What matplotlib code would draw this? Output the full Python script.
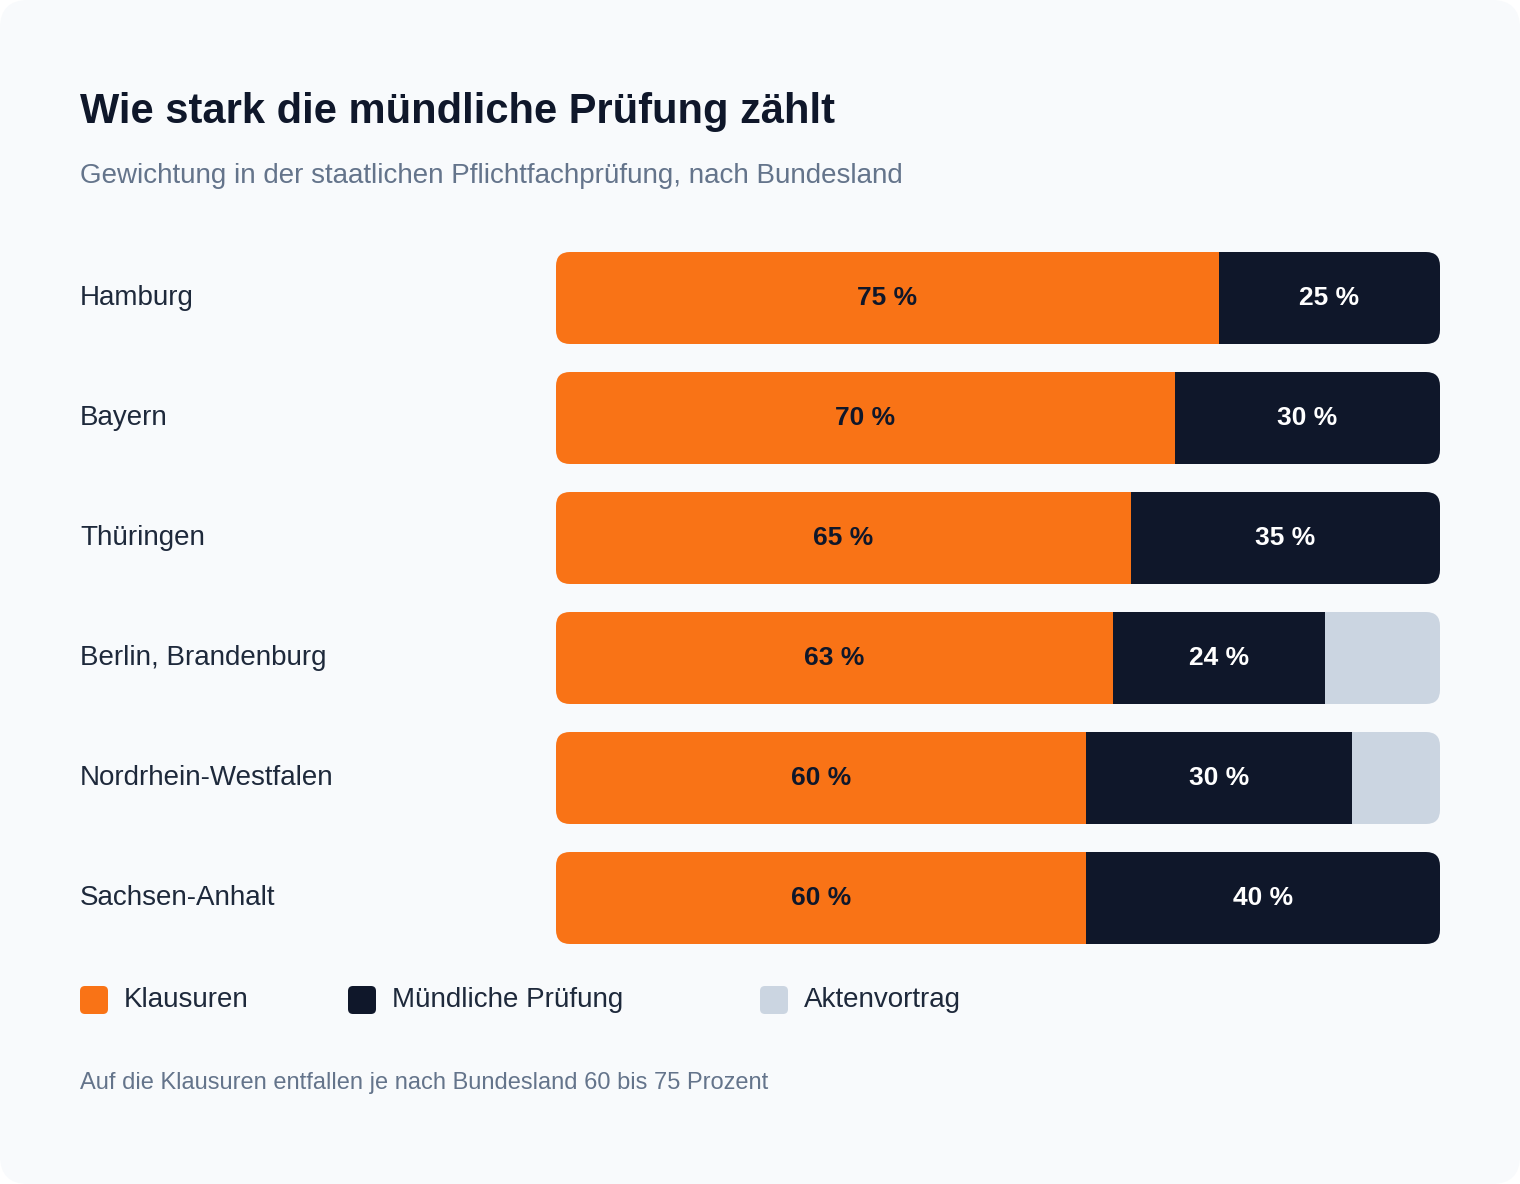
import matplotlib.pyplot as plt
from matplotlib.patches import FancyBboxPatch

plt.rcParams['font.family'] = ['Liberation Sans', 'DejaVu Sans']

laender = ['Hamburg', 'Bayern', 'Thüringen', 'Berlin, Brandenburg', 'Nordrhein-Westfalen', 'Sachsen-Anhalt']
klausuren = [75, 70, 65, 63, 60, 60]
muendlich = [25, 30, 35, 24, 30, 40]
akten = [0, 0, 0, 13, 10, 0]

c_orange = '#f97316'
c_navy = '#0f172a'
c_gray = '#cbd5e1'

W, H = 1520, 1184
fig = plt.figure(figsize=(W / 100, H / 100), dpi=100)
fig.patch.set_facecolor('white')

# Hintergrund- und Textachse in Pixelkoordinaten
bg = fig.add_axes([0, 0, 1, 1])
bg.set_xlim(0, W)
bg.set_ylim(H, 0)
bg.axis('off')
bg.add_patch(FancyBboxPatch((0, 0), W, H, boxstyle='round,pad=0,rounding_size=28',
                            fc='#f8fafc', ec='none'))

bg.text(80, 112, 'Wie stark die mündliche Prüfung zählt', fontsize=30, fontweight='bold',
        color='#0f172a', va='center')
bg.text(80, 176, 'Gewichtung in der staatlichen Pflichtfachprüfung, nach Bundesland',
        fontsize=20, color='#64748b', va='center')

# Balkenachse
x0, x1, ytop, ybot = 556, 1440, 238, 958
ax = fig.add_axes([x0 / W, 1 - ybot / H, (x1 - x0) / W, (ybot - ytop) / H])
ax.set_xlim(0, 100)
ax.set_ylim(len(laender) - 0.5, -0.5)
ax.axis('off')

bh = 92 / 120
px_x = (x1 - x0) / 100
r = 14 / px_x
aspect = (14 / 120) / r

for i, land in enumerate(laender):
    clip = FancyBboxPatch((0, i - bh / 2), 100, bh,
                          boxstyle=f'round,pad=0,rounding_size={r}',
                          mutation_aspect=aspect, fc='none', ec='none',
                          transform=ax.transData)
    ax.add_patch(clip)
    segs = [(klausuren[i], c_orange, c_navy), (muendlich[i], c_navy, 'white'), (akten[i], c_gray, None)]
    left = 0
    for val, col, tcol in segs:
        if val <= 0:
            continue
        b = ax.barh(i, val, left=left, height=bh, color=col, edgecolor='none')
        for p in b:
            p.set_clip_path(clip)
        if tcol:
            ax.text(left + val / 2, i, f'{val} %', ha='center', va='center',
                    fontsize=19, fontweight='bold', color=tcol)
        left += val
    bg.text(80, 298 + i * 120, land, fontsize=20, color='#1e293b', va='center')

# Legende
legend = [('Klausuren', c_orange, 80), ('Mündliche Prüfung', c_navy, 348), ('Aktenvortrag', c_gray, 760)]
for name, col, lx in legend:
    bg.add_patch(FancyBboxPatch((lx, 986), 28, 28, boxstyle='round,pad=0,rounding_size=5',
                                fc=col, ec='none'))
    bg.text(lx + 44, 1000, name, fontsize=20, color='#1e293b', va='center')

bg.text(80, 1083, 'Auf die Klausuren entfallen je nach Bundesland 60 bis 75 Prozent',
        fontsize=17, color='#64748b', va='center')

fig.savefig('out.png', dpi=100, facecolor=fig.get_facecolor())
